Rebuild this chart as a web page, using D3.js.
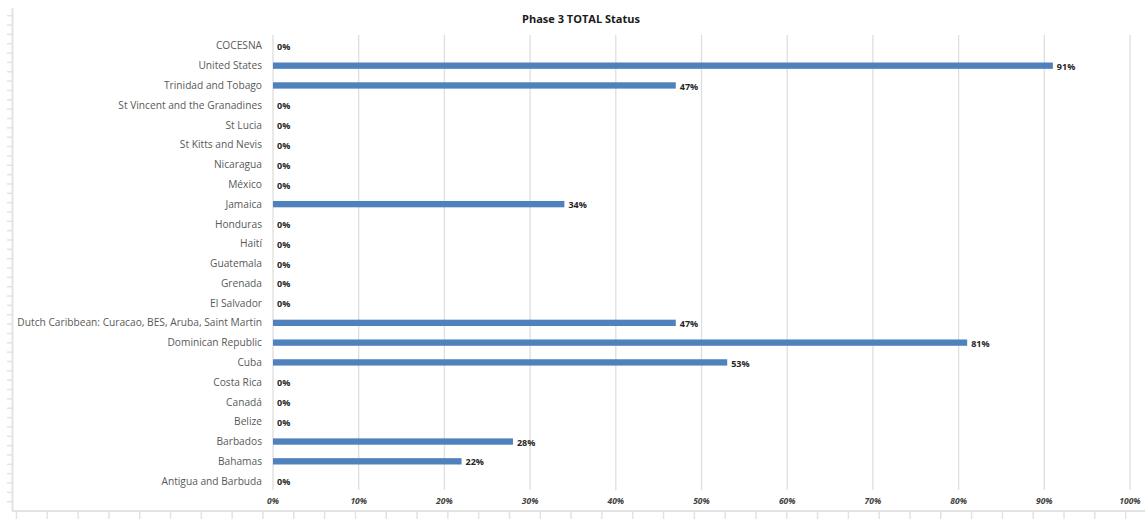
<!DOCTYPE html>
<html>
<head>
<meta charset="utf-8">
<script src="https://cdn.jsdelivr.net/npm/d3@7"></script>
<style>
  body { margin: 0; background: #ffffff; }
  svg { display: block; }
</style>
</head>
<body>
<svg id="chart" width="1145" height="519"></svg>
<script>
// categories top to bottom as in the sheet
const countries = [
  "COCESNA",
  "United States",
  "Trinidad and Tobago",
  "St Vincent and the Granadines",
  "St Lucia",
  "St Kitts and Nevis",
  "Nicaragua",
  "México",
  "Jamaica",
  "Honduras",
  "Haití",
  "Guatemala",
  "Grenada",
  "El Salvador",
  "Dutch Caribbean: Curacao, BES, Aruba, Saint Martin",
  "Dominican Republic",
  "Cuba",
  "Costa Rica",
  "Canadá",
  "Belize",
  "Barbados",
  "Bahamas",
  "Antigua and Barbuda",
];

// percent complete
const status = [0, 91, 47, 0, 0, 0, 0, 0, 34, 0, 0, 0, 0, 0, 47, 81, 53, 0, 0, 0, 28, 22, 0];

const xTicks = [0, 10, 20, 30, 40, 50, 60, 70, 80, 90, 100];

const chartTitle = "Phase 3  TOTAL Status";

var svg = d3.select("svg#chart");

var margin = { top: 35, left: 273, right: 15, bottom: 29 };
var width = 1145 - margin.left - margin.right;
var height = 519 - margin.top - margin.bottom;

var x = d3.scaleLinear().domain([0, 100]).range([0, 857]);
// bands shifted down a hair so bars sit where the sheet has them
var y = d3.scaleBand().domain(countries).range([1, height + 1]).paddingInner(0.68).paddingOuter(0.34);

// spreadsheet rulers (left + bottom)
var ruler = svg.append("g").attr("class", "ruler");
ruler.append("line")
  .attr("x1", 12.5).attr("x2", 12.5).attr("y1", 8).attr("y2", 511)
  .attr("stroke", "#e3e3e3").attr("stroke-width", 2);
ruler.append("line")
  .attr("x1", 12).attr("x2", 1145).attr("y1", 511).attr("y2", 511)
  .attr("stroke", "#e3e3e3").attr("stroke-width", 2);
ruler.selectAll(".vt")
  .data(d3.range(53))
  .enter()
  .append("line")
  .attr("x1", 7).attr("x2", 12)
  .attr("y1", (d) => 15.7 + d * 9.346)
  .attr("y2", (d) => 15.7 + d * 9.346)
  .attr("stroke", "#e3e3e3").attr("stroke-width", 1.5);
ruler.selectAll(".ht")
  .data(d3.range(37))
  .enter()
  .append("line")
  .attr("x1", (d) => 16.5 + d * 30.81)
  .attr("x2", (d) => 16.5 + d * 30.81)
  .attr("y1", 511).attr("y2", 519)
  .attr("stroke", "#e3e3e3").attr("stroke-width", 1.5);

var g = svg.append("g").attr("transform", "translate(" + margin.left + "," + margin.top + ")");

// vertical gridlines
g.selectAll(".grid")
  .data(xTicks)
  .enter()
  .append("line")
  .attr("x1", (d) => x(d))
  .attr("x2", (d) => x(d))
  .attr("y1", 0)
  .attr("y2", height)
  .attr("stroke", "#dedede")
  .attr("stroke-width", 1.3);

// x tick labels
g.selectAll(".xlab")
  .data(xTicks)
  .enter()
  .append("text")
  .attr("x", (d) => x(d))
  .attr("y", height + 14)
  .attr("text-anchor", "middle")
  .attr("font-family", "'Open Sans', sans-serif")
  .attr("font-size", "8.5px")
  .attr("font-weight", "bold")
  .attr("font-style", "italic")
  .attr("fill", "#404040")
  .text((d) => d + "%");

// category labels
g.selectAll(".ylab")
  .data(countries)
  .enter()
  .append("text")
  .attr("x", -11)
  .attr("y", (d) => y(d) + y.bandwidth() / 2)
  .attr("dy", "0.35em")
  .attr("text-anchor", "end")
  .attr("font-family", "'Open Sans', sans-serif")
  .attr("font-size", "10.2px")
  .attr("fill", "#595959")
  .text((d) => d);

// bars
g.selectAll(".bar")
  .data(countries)
  .enter()
  .append("rect")
  .attr("x", 0)
  .attr("y", (d) => y(d))
  .attr("width", (d, i) => x(status[i]))
  .attr("height", y.bandwidth())
  .attr("fill", "#4f81bd");

// data labels
g.selectAll(".val")
  .data(countries)
  .enter()
  .append("text")
  .attr("x", (d, i) => x(status[i]) + 4)
  .attr("y", (d) => y(d) + y.bandwidth() / 2 + 1)
  .attr("dy", "0.35em")
  .attr("font-family", "'Open Sans', sans-serif")
  .attr("font-size", "9px")
  .attr("font-weight", "bold")
  .attr("fill", "#262626")
  .text((d, i) => status[i] + "%");

// title
svg.append("text")
  .attr("x", 581)
  .attr("y", 23)
  .attr("text-anchor", "middle")
  .attr("font-family", "'Open Sans', sans-serif")
  .attr("font-size", "11px")
  .attr("font-weight", "bold")
  .attr("fill", "#1a1a1a")
  .text(chartTitle);
</script>
</body>
</html>
